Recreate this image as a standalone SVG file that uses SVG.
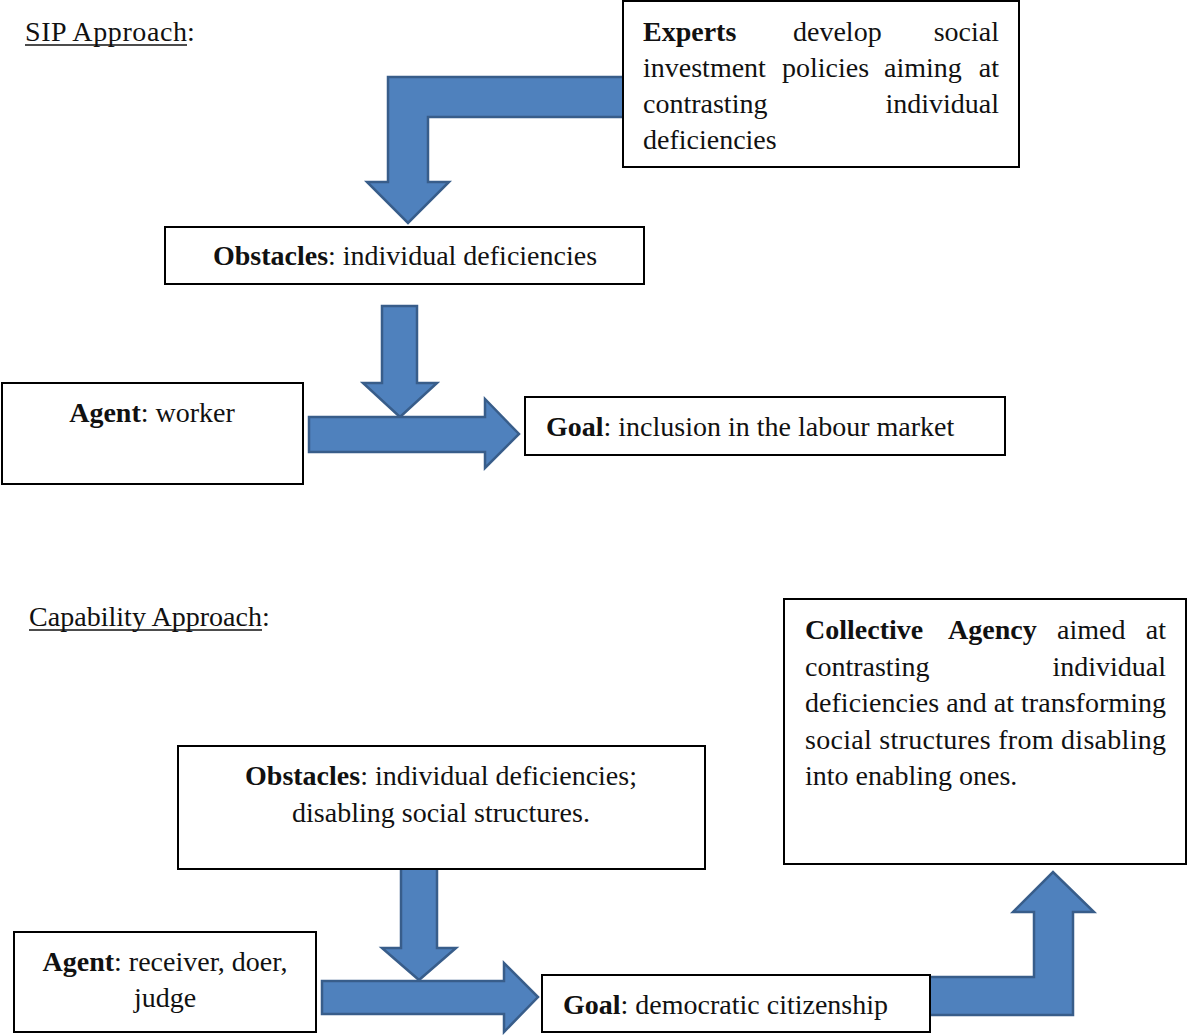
<svg xmlns="http://www.w3.org/2000/svg" width="1187" height="1035" viewBox="0 0 1187 1035" font-family="'Liberation Serif', 'DejaVu Serif', serif" font-size="28">
<style>
text{font-family:'Liberation Serif','DejaVu Serif',serif;font-size:28px;fill:#111}
.b{font-weight:bold}
.box{fill:#fff;stroke:#000;stroke-width:2}
.arr{fill:#4F81BD;stroke:#385D8A;stroke-width:2.5;stroke-linejoin:miter}
.ul{stroke:#111;stroke-width:1.3}
.m{text-anchor:middle}
.e{text-anchor:end}
</style>
<rect width="1187" height="1035" fill="#fff"/>
<g id="labels">
<text x="25" y="41" textLength="162" lengthAdjust="spacing">SIP Approach</text>
<text x="187" y="41">:</text>
<line class="ul" x1="25" y1="45" x2="187" y2="45"/>
<text x="29" y="626" textLength="233" lengthAdjust="spacing">Capability Approach</text>
<text x="262" y="626">:</text>
<line class="ul" x1="29" y1="630" x2="262" y2="630"/>
</g>
<g id="connectors">
<path class="arr" d="M626,77 L388,77 L388,182 L367,182 L408,223 L449,182 L428,182 L428,117 L626,117 Z"/>
<path class="arr" d="M382,306 L417,306 L417,383 L437,383 L400,417 L363,383 L382,383 Z"/>
<path class="arr" d="M309,417 L485,417 L485,399 L519,434 L485,468 L485,452 L309,452 Z"/>
<path class="arr" d="M401,868 L437,868 L437,948 L456,948 L419,980 L382,948 L401,948 Z"/>
<path class="arr" d="M322,981 L504,981 L504,963 L538,997 L504,1032 L504,1014 L322,1014 Z"/>
<path class="arr" d="M926,977 L1034,977 L1034,912 L1013,912 L1053,872 L1094,912 L1073,912 L1073,1015 L926,1015 Z"/>
</g>
<g id="experts">
<rect class="box" x="623" y="1" width="396" height="166"/>
<text x="643" y="41" class="b">Experts</text>
<text x="793" y="41">develop</text>
<text x="999" y="41" class="e">social</text>
<text x="643" y="77">investment</text>
<text x="782" y="77">policies</text>
<text x="884" y="77">aiming</text>
<text x="999" y="77" class="e">at</text>
<text x="643" y="113">contrasting</text>
<text x="999" y="113" class="e">individual</text>
<text x="643" y="149">deficiencies</text>
</g>
<g id="obstacles1">
<rect class="box" x="165" y="227" width="479" height="57"/>
<text x="405" y="265" class="m"><tspan class="b">Obstacles</tspan>: individual deficiencies</text>
</g>
<g id="agent1">
<rect class="box" x="2" y="383" width="301" height="101"/>
<text x="152" y="422" class="m"><tspan class="b">Agent</tspan>: worker</text>
</g>
<g id="goal1">
<rect class="box" x="525" y="397" width="480" height="58"/>
<text x="546" y="436"><tspan class="b">Goal</tspan>: inclusion in the labour market</text>
</g>
<g id="collective">
<rect class="box" x="784" y="599" width="402" height="265"/>
<text x="805" y="639" class="b">Collective</text>
<text x="948" y="639" class="b">Agency</text>
<text x="1057" y="639">aimed</text>
<text x="1166" y="639" class="e">at</text>
<text x="805" y="676">contrasting</text>
<text x="1166" y="676" class="e">individual</text>
<text x="805" y="712" textLength="361" lengthAdjust="spacing">deficiencies and at transforming</text>
<text x="805" y="749" textLength="361" lengthAdjust="spacing">social structures from disabling</text>
<text x="805" y="785">into enabling ones.</text>
</g>
<g id="obstacles2">
<rect class="box" x="178" y="746" width="527" height="123"/>
<text x="441" y="785" class="m"><tspan class="b">Obstacles</tspan>: individual deficiencies;</text>
<text x="441" y="822" class="m">disabling social structures.</text>
</g>
<g id="agent2">
<rect class="box" x="14" y="932" width="302" height="100"/>
<text x="165" y="971" class="m"><tspan class="b">Agent</tspan>: receiver, doer,</text>
<text x="165" y="1007" class="m">judge</text>
</g>
<g id="goal2">
<rect class="box" x="542" y="975" width="388" height="57"/>
<text x="563" y="1014"><tspan class="b">Goal</tspan>: democratic citizenship</text>
</g>
</svg>
